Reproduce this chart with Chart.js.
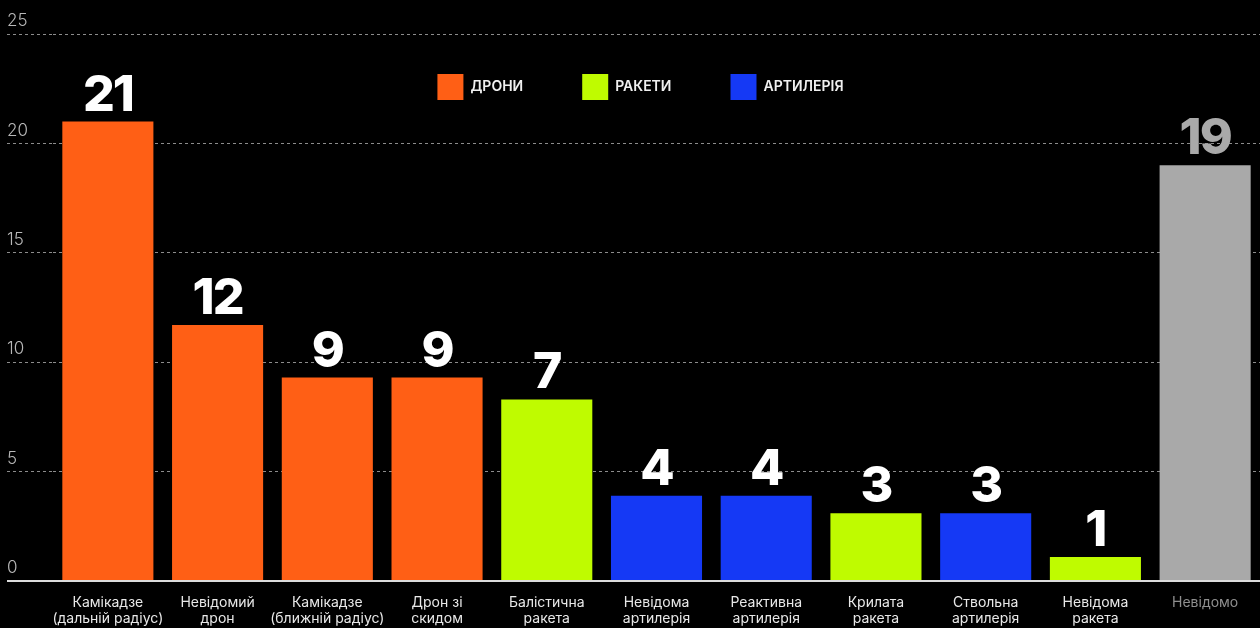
<!DOCTYPE html>
<html>
<head>
<meta charset="utf-8">
<script src="https://cdn.jsdelivr.net/npm/chart.js"></script>
<style>
  html, body { margin: 0; padding: 0; background: #000; }
  #wrap { width: 1260px; height: 628px; position: relative; }
</style>
</head>
<body>
<div id="wrap"><canvas id="myChart"></canvas></div>
<script>
const categories = [
  ["Камікадзе", "(дальній радіус)"],
  ["Невідомий", "дрон"],
  ["Камікадзе", "(ближній радіус)"],
  ["Дрон зі", "скидом"],
  ["Балістична", "ракета"],
  ["Невідома", "артилерія"],
  ["Реактивна", "артилерія"],
  ["Крилата", "ракета"],
  ["Ствольна", "артилерія"],
  ["Невідома", "ракета"],
  "Невідомо"
];
const seriesNames = ["ДРОНИ", "РАКЕТИ", "АРТИЛЕРІЯ", "Невідомо"];
const droneValues = [21, 11.7, 9.3, 9.3, null, null, null, null, null, null, null];
const rocketValues = [null, null, null, null, 8.3, null, null, 3.1, null, 1.1, null];
const artilleryValues = [null, null, null, null, null, 3.9, 3.9, null, 3.1, null, null];
const unknownValues = [null, null, null, null, null, null, null, null, null, null, 19];
const shownLabels = ["21", "12", "9", "9", "7", "4", "4", "3", "3", "1", "19"];
const yTicks = [0, 5, 10, 15, 20, 25];

const colors = ["#ff5f15", "#bffb00", "#1539f5", "#a9a9a9"];

Chart.defaults.font.family = "Inter, 'Noto Sans', sans-serif";

// big numbers above bars
const barNumbers = {
  id: "barNumbers",
  afterDatasetsDraw(chart) {
    const c = chart.ctx;
    c.save();
    c.font = "800 50px Inter, sans-serif";
    c.letterSpacing = "-2px";
    c.textAlign = "center";
    c.textBaseline = "alphabetic";
    chart.data.datasets.forEach(function (ds, di) {
      const meta = chart.getDatasetMeta(di);
      meta.data.forEach(function (bar, i) {
        if (ds.data[i] == null) return;
        c.fillStyle = di === 3 ? "#a9a9a9" : "#ffffff";
        c.fillText(shownLabels[i], bar.x, bar.y - 11);
      });
    });
    c.restore();
  }
};

// legend sits inside the plot, so it takes no room in the layout
const legendInside = {
  id: "legendInside",
  beforeLayout(chart) {
    const lg = chart.legend;
    if (lg && !lg._inside) {
      const fit = lg.fit;
      lg.fit = function () { fit.call(this); this.height = 0; };
      lg._inside = true;
    }
  },
  afterLayout(chart) {
    const lg = chart.legend;
    if (!lg) return;
    const pad = lg.options.labels.padding;
    lg.left = chart.chartArea.left - 16;
    lg.right = chart.chartArea.right - 16;
    lg.top = 74 - pad;
    lg.bottom = lg.top + 120;
  }
};

const ctx = document.getElementById("myChart");
const myChart = new Chart(ctx, {
  type: "bar",
  data: {
    labels: categories,
    datasets: [
      { label: seriesNames[0], data: droneValues, backgroundColor: colors[0], borderWidth: 0 },
      { label: seriesNames[1], data: rocketValues, backgroundColor: colors[1], borderWidth: 0 },
      { label: seriesNames[2], data: artilleryValues, backgroundColor: colors[2], borderWidth: 0 },
      { label: seriesNames[3], data: unknownValues, backgroundColor: colors[3], borderWidth: 0 }
    ]
  },
  options: {
    responsive: true,
    maintainAspectRatio: false,
    animation: false,
    barPercentage: 0.83,
    categoryPercentage: 1,
    layout: { padding: { left: 7, top: 34, right: 0, bottom: 0 } },
    plugins: {
      tooltip: { enabled: false },
      legend: {
        position: "top",
        align: "center",
        labels: {
          boxWidth: 26,
          boxHeight: 26,
          padding: 59,
          color: "#f0f0f0",
          font: { size: 14, weight: "600" },
          filter: function (item) { return item.datasetIndex < 3; }
        }
      }
    },
    scales: {
      x: {
        stacked: true,
        grid: { display: false, drawTicks: false },
        border: { display: false },
        ticks: {
          padding: 13,
          maxRotation: 0,
          autoSkip: false,
          font: { size: 14 },
          color: function (c) { return c.index === 10 ? "#8f8f8f" : "#e8e8e8"; }
        },
        afterFit: function (s) { s.height = 47; s.paddingLeft = 0; s.paddingRight = 0; }
      },
      y: {
        stacked: true,
        min: 0,
        max: 25,
        afterBuildTicks: function (s) { s.ticks = yTicks.map(function (v) { return { value: v }; }); },
        afterFit: function (s) { s.width = 46; s.paddingTop = 0; s.paddingBottom = 0; },
        border: {
          display: false,
          dash: function (c) { return c.tick && c.tick.value === 0 ? [] : [3, 3]; }
        },
        grid: {
          tickLength: 46,
          color: function (c) { return c.tick && c.tick.value === 0 ? "#dcdcdc" : "rgba(255,255,255,0.55)"; },
          lineWidth: function (c) { return c.tick && c.tick.value === 0 ? 2 : 1; },
          tickBorderDash: function (c) { return c.tick && c.tick.value === 0 ? [] : [3, 3]; }
        },
        ticks: {
          crossAlign: "far",
          labelOffset: -13,
          padding: 0,
          color: "#b8b8b8",
          font: { size: 17, weight: "300" }
        }
      }
    }
  },
  plugins: [barNumbers, legendInside]
});
</script>
</body>
</html>
